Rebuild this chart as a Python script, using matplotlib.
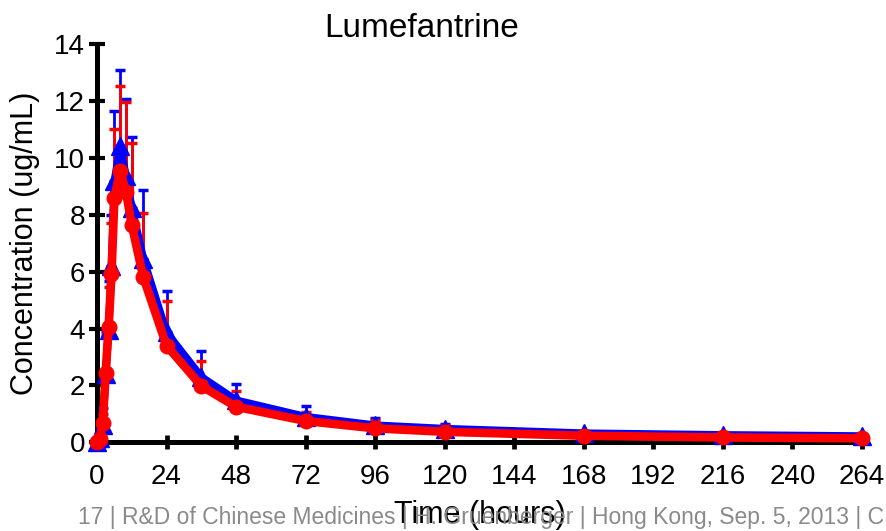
import matplotlib
matplotlib.use("Agg")
import matplotlib.pyplot as plt
import numpy as np

plt.rcParams['font.family'] = ['Liberation Sans', 'DejaVu Sans']

# Data
time_h = [0, 1, 2, 3, 4, 5, 6, 8, 10, 12, 16, 24, 36, 48, 72, 96, 120, 168, 216, 264]

blue_mean = [0.0, 0.15, 0.6, 2.39, 3.93, 6.2, 9.18, 10.4, 9.36, 8.25, 6.45, 3.86,
             2.3, 1.48, 0.9, 0.6, 0.48, 0.32, 0.26, 0.22]
blue_upper = [0.05, 0.3, 1.2, 3.9, 5.66, 8.0, 11.65, 13.09, 12.06, 10.72, 8.86, 5.33,
              3.21, 2.05, 1.29, 0.87, 0.66, 0.40, 0.32, 0.26]

red_mean = [0.0, 0.12, 0.69, 2.45, 4.05, 5.9, 8.6, 9.53, 8.81, 7.64, 5.8, 3.4,
            1.98, 1.25, 0.75, 0.49, 0.37, 0.23, 0.17, 0.14]
red_upper = [0.04, 0.25, 1.0, 3.8, 5.45, 7.7, 11.02, 12.53, 11.96, 10.51, 8.05, 4.96,
             2.87, 1.82, 1.08, 0.80, 0.60, 0.30, 0.22, 0.18]

x_ticks = [0, 24, 48, 72, 96, 120, 144, 168, 192, 216, 240, 264]
y_ticks = [0, 2, 4, 6, 8, 10, 12, 14]

title = "Lumefantrine"
x_label = "Time (hours)"
y_label = "Concentration (ug/mL)"
footer = "17 | R&D of Chinese Medicines | H. Gruenberger | Hong Kong, Sep. 5, 2013 | C"

W, H = 887, 531
fig = plt.figure(figsize=(W / 100, H / 100), dpi=100)
ax = fig.add_axes([97 / W, 1 - 442.3 / H, (862 - 97) / W, (442.3 - 44) / H])

t = np.array(time_h, dtype=float)
bm = np.array(blue_mean); bu = np.array(blue_upper)
rm = np.array(red_mean); ru = np.array(red_upper)

blue = '#0000ff'
red = '#ff0000'

eb_kw = dict(fmt='none', capsize=3.4, capthick=2.5, elinewidth=2.0, clip_on=False)
e1 = ax.errorbar(t, bm, yerr=[np.zeros_like(bm), bu - bm], ecolor=blue, zorder=2, **eb_kw)
e2 = ax.errorbar(t, rm, yerr=[np.zeros_like(rm), ru - rm], ecolor=red, zorder=3, **eb_kw)
for e in (e1, e2):
    for c in e[1]:
        c.set_clip_on(False)
    for c in e[2]:
        c.set_clip_on(False)

ax.plot(t, bm, color=blue, lw=5.5, marker='^', ms=13, mec=blue, mfc=blue,
        zorder=4, clip_on=False)
ax.plot(t, rm, color=red, lw=6.2, marker='o', ms=10.5, mec=red, mfc=red,
        zorder=5, clip_on=False)

ax.set_xlim(0, 264)
ax.set_ylim(0, 14)
ax.set_xticks(x_ticks)
ax.set_yticks(y_ticks)

for side in ('top', 'right'):
    ax.spines[side].set_visible(False)
for side in ('left', 'bottom'):
    ax.spines[side].set_linewidth(3.6)
    ax.spines[side].set_zorder(1)

ax.tick_params(axis='x', direction='inout', length=9.4, width=3.4, labelsize=20, pad=11)
ax.tick_params(axis='y', direction='inout', length=11.3, width=3.0, labelsize=20, pad=3)

ax.set_xlabel(x_label, fontsize=22, va='baseline')
ax.xaxis.set_label_coords(0.5, -(523 - 442.3) / (442.3 - 44))
ax.set_ylabel(y_label, fontsize=22, va='center')
ax.yaxis.set_label_coords(-(97 - 25) / (862 - 97), 0.5)

fig.text(421.5 / W, 1 - 36.6 / H, title, ha='center', va='baseline', fontsize=24)
fig.text(78 / W, 1 - 524 / H, footer, ha='left', va='baseline', fontsize=16.5, color='#8a8a8a')

fig.savefig('out.png', dpi=100)
